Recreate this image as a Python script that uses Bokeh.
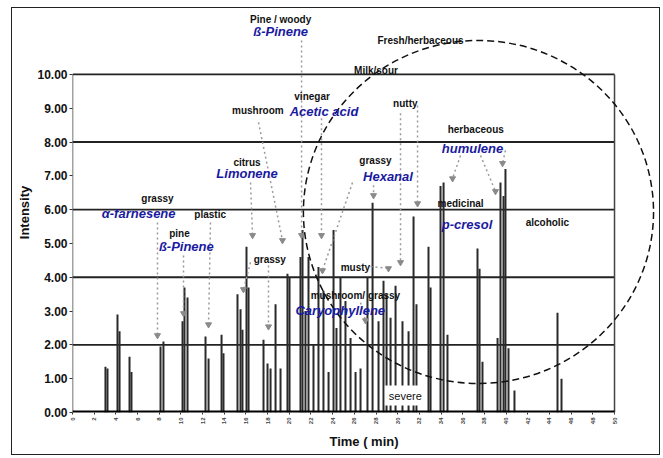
import math
from bokeh.plotting import figure
from bokeh.models import Range1d, FixedTicker, ColumnDataSource
from bokeh.core.properties import value
from bokeh.embed import file_html
from bokeh.resources import INLINE

# ---- data ----
peak_time = [3.04, 3.23, 4.15, 4.34, 5.26, 5.44, 8.12, 8.39, 10.15, 10.33,
             10.61, 12.27, 12.55, 13.75, 13.93, 15.22, 15.50, 15.68, 16.05, 16.24,
             17.62, 17.99, 18.27, 18.73, 19.19, 19.83, 20.02, 21.03, 21.22, 21.49,
             21.77, 22.23, 22.69, 23.15, 23.62, 24.08, 24.35, 24.72, 25.18, 25.65,
             26.11, 26.57, 27.21, 27.68, 28.23, 28.69, 28.97, 29.34, 29.80, 30.44,
             31.00, 31.46, 31.73, 32.84, 33.03, 33.95, 34.23, 34.59, 37.36, 37.55,
             37.82, 39.21, 39.48, 39.76, 39.94, 40.22, 40.77, 44.74, 45.11]
peak_height = [1.35, 1.3, 2.9, 2.4, 1.65, 1.2, 1.95, 2.1, 2.7, 3.7,
               3.4, 2.25, 1.6, 2.3, 1.75, 3.5, 3.05, 2.45, 4.9, 3.7,
               2.15, 1.45, 1.3, 3.2, 1.3, 4.1, 4.0, 4.6, 5.4, 3.0,
               4.6, 2.0, 4.3, 3.6, 1.2, 5.4, 2.5, 4.0, 3.3, 2.2,
               1.2, 1.3, 4.0, 6.2, 2.7, 3.9, 3.5, 2.8, 3.75, 2.7,
               2.4, 5.8, 3.2, 4.9, 3.7, 6.7, 6.8, 2.3, 4.85, 4.25,
               1.5, 2.2, 6.8, 6.4, 7.2, 1.9, 0.65, 2.95, 1.0]

y_ticks = [0, 1, 2, 3, 4, 5, 6, 7, 8, 9, 10]
y_tick_labels = ["0.00", "1.00", "2.00", "3.00", "4.00", "5.00", "6.00",
                 "7.00", "8.00", "9.00", "10.00"]
x_ticks = list(range(0, 51, 2))
x_tick_labels = [str(t) for t in x_ticks]
grid_levels = [2, 4, 6, 8, 10]

odour_text = ["Pine / woody", "Fresh/herbaceous", "Milk/sour", "vinegar", "mushroom",
              "nutty", "herbaceous", "citrus", "grassy", "grassy", "plastic", "pine",
              "grassy", "medicinal", "alcoholic", "musty", "mushroom/ grassy"]
odour_x = [19.2, 32.1, 28.0, 22.1, 17.1, 30.7, 37.2, 16.1, 27.95, 7.84, 12.7, 9.87,
           18.2, 35.8, 43.8, 26.1, 26.1]
odour_y = [11.63, 11.0, 10.12, 9.35, 8.93, 9.14, 8.37, 7.4, 7.46, 6.33, 5.86, 5.3,
           4.53, 6.18, 5.62, 4.29, 3.46]

compound_text = ["ß-Pinene", "Acetic acid", "humulene", "Limonene", "Hexanal",
                 "α-farnesene", "ß-Pinene", "p-cresol", "Caryophyllene"]
compound_x = [19.2, 23.2, 36.9, 16.1, 29.1, 6.1, 10.5, 36.4, 24.7]
compound_y = [11.27, 8.9, 7.8, 7.07, 6.98, 5.89, 4.91, 5.56, 3.02]

arrow_x0 = [21.13, 22.97, 17.16, 16.42, 7.84, 10.24, 12.73, 18.08, 16.42, 25.83,
            27.77, 30.26, 31.83, 37.64, 35.79, 39.94, 27.49, 26.57]
arrow_y0 = [11.0, 8.70, 8.58, 6.80, 5.62, 4.64, 5.62, 4.35, 4.44, 6.80,
            6.72, 8.85, 9.08, 7.60, 7.60, 7.75, 4.32, 3.25]
arrow_x1 = [21.13, 22.97, 19.37, 16.61, 7.84, 10.24, 12.55, 18.08, 15.77, 23.06,
            27.77, 30.26, 31.83, 39.02, 35.06, 39.67, 29.15, 27.03]
arrow_y1 = [5.24, 5.24, 5.09, 5.24, 2.28, 2.93, 2.60, 2.54, 3.64, 4.20,
            6.42, 4.44, 6.18, 6.54, 6.92, 7.37, 4.26, 2.72]

region_x = [37.45]
region_y = [5.93]
region_w = [32.3]
region_h = [10.15]

# ---- figure ----
p = figure(width=649, height=448, x_range=Range1d(0, 53.78), y_range=Range1d(0, 11.83),
           output_backend="svg", toolbar_location=None,
           min_border_left=60, min_border_right=6, min_border_top=4, min_border_bottom=44)
p.margin = (7, 0, 0, 11)
p.styles = {"border": "1px solid #222"}
p.outline_line_color = None
p.grid.visible = False

FONT = value("Liberation Sans")

# y axis
ya = p.yaxis[0]
ya.ticker = FixedTicker(ticks=y_ticks)
ya.major_label_overrides = {t: l for t, l in zip(y_ticks, y_tick_labels)}
ya.axis_line_color = None
ya.minor_tick_line_color = None
ya.major_tick_in = 0
ya.major_tick_out = 3
ya.major_tick_line_color = "#333"
ya.major_label_text_font = "Liberation Sans"
ya.major_label_text_font_style = "bold"
ya.major_label_text_font_size = "12px"
ya.major_label_text_color = "#111"
ya.major_label_standoff = 2
ya.axis_label = "Intensity"
ya.axis_label_text_font = "Liberation Sans"
ya.axis_label_text_font_style = "bold"
ya.axis_label_text_font_size = "13px"
ya.axis_label_text_color = "#111"
ya.axis_label_standoff = 2

# x axis
xa = p.xaxis[0]
xa.ticker = FixedTicker(ticks=x_ticks)
xa.major_label_overrides = {t: l for t, l in zip(x_ticks, x_tick_labels)}
xa.major_label_orientation = math.pi / 2
xa.axis_line_color = None
xa.minor_tick_line_color = None
xa.major_tick_in = 0
xa.major_tick_out = 2
xa.major_tick_line_color = "#333"
xa.major_label_text_font = "Liberation Sans"
xa.major_label_text_font_style = "bold"
xa.major_label_text_font_size = "6px"
xa.major_label_standoff = 3
xa.axis_label = "Time ( min)"
xa.axis_label_text_font = "Liberation Sans"
xa.axis_label_text_font_style = "bold"
xa.axis_label_text_font_size = "13px"
xa.axis_label_text_color = "#111"
xa.axis_label_standoff = 7

# grid lines and frame lines
p.segment(x0=[0] * len(grid_levels), y0=grid_levels, x1=[x_ticks[-1]] * len(grid_levels),
          y1=grid_levels, line_color="#222", line_width=1.8)
p.segment(x0=[0, x_ticks[-1]], y0=[0, 0], x1=[0, x_ticks[-1]], y1=[y_ticks[-1], y_ticks[-1]],
          line_color="#444", line_width=1.5)

# chromatogram peaks
src = ColumnDataSource(dict(t=peak_time, h=peak_height, z=[0] * len(peak_time)))
p.segment(x0="t", y0="z", x1="t", y1="h", source=src, line_color="#2a2a2a", line_width=2)

# baseline
p.segment(x0=[0], y0=[0], x1=[x_ticks[-1]], y1=[0], line_color="black", line_width=4)

# arrows
p.segment(x0=arrow_x0, y0=arrow_y0, x1=arrow_x1, y1=arrow_y1,
          line_color="#9a9a9a", line_width=1.5, line_dash="2 3")
p.scatter(x=arrow_x1, y=arrow_y1, marker="inverted_triangle", size=6,
          fill_color="#8a8a8a", line_color="#8a8a8a")

# dashed region
p.ellipse(x=region_x, y=region_y, width=region_w, height=region_h,
          fill_color=None, line_color="#111", line_width=1.5, line_dash="7 4")

# labels
p.text(x=odour_x, y=odour_y, text=odour_text, text_align="center", text_baseline="middle",
       text_font=FONT, text_font_style="bold", text_font_size="10px", text_color="#111")
p.text(x=compound_x, y=compound_y, text=compound_text, text_align="center",
       text_baseline="middle", text_font=FONT, text_font_style="bold italic",
       text_font_size="13px", text_color="#1a1aa0")
p.text(x=[30.7], y=[0.5], text=["severe"], text_align="center", text_baseline="middle",
       text_font=FONT, text_font_size="11px", text_color="#111",
       background_fill_color="white", padding=4)

open("out.html", "w").write(file_html(p, INLINE))
